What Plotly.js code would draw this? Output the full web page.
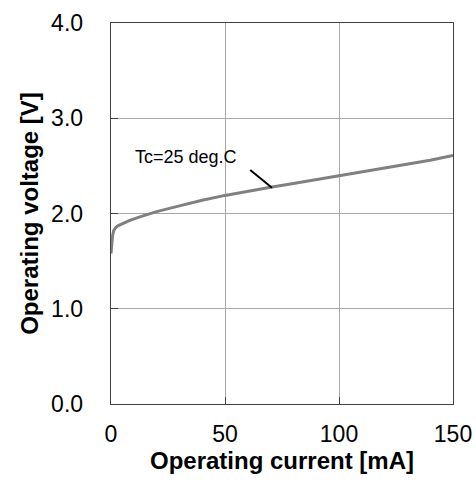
<!DOCTYPE html>
<html>
<head>
<meta charset="utf-8">
<script src="https://cdn.plot.ly/plotly-3.0.1.min.js"></script>
<style>html,body{margin:0;padding:0;background:#fff;}</style>
</head>
<body>
<div id="chart" style="width:476px;height:485px;"></div>
<script>
// Operating current [mA]
const currentMA = [0, 0.3, 0.7, 1.2, 2, 3, 5, 8, 12, 16, 20, 30, 40, 50, 60, 70, 80, 90, 100, 110, 120, 130, 140, 150];
// Operating voltage [V]
const voltageV = [1.58, 1.68, 1.77, 1.82, 1.85, 1.87, 1.895, 1.925, 1.96, 1.99, 2.02, 2.08, 2.14, 2.19, 2.235, 2.275, 2.315, 2.355, 2.40, 2.44, 2.48, 2.52, 2.56, 2.61];
const xTicks = [0, 50, 100, 150];
const yTicks = [0, 1, 2, 3, 4];
const yTickLabels = ['0.0', '1.0', '2.0', '3.0', '4.0'];
const seriesLabel = 'Tc=25 deg.C';
// label anchor and leader line ends (data units)
const labelPos = {x: 9.8, y: 2.59};
const leaderFrom = {x: 60.4, y: 2.47};
const leaderTo = {x: 70.6, y: 2.27};

const FONT = 'Liberation Sans, Arial, sans-serif';

const trace = {
  x: currentMA,
  y: voltageV,
  mode: 'lines',
  line: {color: '#808080', width: 3, shape: 'linear'},
  hoverinfo: 'skip'
};

const layout = {
  width: 476,
  height: 485,
  margin: {l: 111, r: 23, t: 23, b: 81},
  paper_bgcolor: '#ffffff',
  plot_bgcolor: '#ffffff',
  showlegend: false,
  font: {family: FONT, color: '#000'},
  xaxis: {
    range: [0, 150],
    tickvals: xTicks,
    ticktext: xTicks.map(String),
    ticks: 'inside',
    ticklen: 7,
    tickcolor: '#404040',
    tickwidth: 1,
    showgrid: true,
    gridcolor: '#a8a8a8',
    gridwidth: 1,
    showline: true,
    linecolor: '#404040',
    linewidth: 1.3,
    mirror: true,
    zeroline: false,
    tickfont: {family: FONT, size: 23, color: '#000'},
    ticklabelstandoff: 9,
    title: {text: 'Operating current [mA]', font: {family: FONT, size: 24, color: '#000', weight: 'bold'}, standoff: 6},
    automargin: false
  },
  yaxis: {
    range: [0, 4],
    tickvals: yTicks,
    ticktext: yTickLabels,
    ticks: 'inside',
    ticklen: 7,
    tickcolor: '#404040',
    tickwidth: 1,
    showgrid: true,
    gridcolor: '#a8a8a8',
    gridwidth: 1,
    showline: true,
    linecolor: '#404040',
    linewidth: 1.3,
    mirror: true,
    zeroline: false,
    tickfont: {family: FONT, size: 23, color: '#000'},
    ticklabelstandoff: 22,
    title: {text: 'Operating voltage [V]', font: {family: FONT, size: 24, color: '#000', weight: 'bold'}, standoff: 5},
    automargin: false
  },
  annotations: [
    {
      x: labelPos.x, y: labelPos.y, xref: 'x', yref: 'y',
      text: seriesLabel, showarrow: false,
      xanchor: 'left', yanchor: 'middle',
      font: {family: FONT, size: 18, color: '#000'}
    },
    {
      x: leaderTo.x, y: leaderTo.y, xref: 'x', yref: 'y',
      ax: leaderFrom.x, ay: leaderFrom.y, axref: 'x', ayref: 'y',
      text: '', showarrow: true, arrowhead: 0, arrowwidth: 2,
      arrowcolor: '#000', standoff: 0, startstandoff: 0
    }
  ]
};

Plotly.newPlot('chart', [trace], layout, {displayModeBar: false, staticPlot: true});
</script>
</body>
</html>
